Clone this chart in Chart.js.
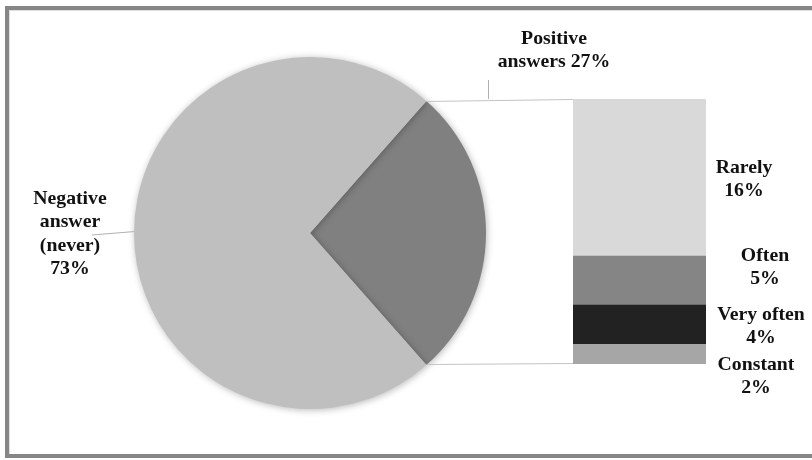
<!DOCTYPE html>
<html>
<head>
<meta charset="utf-8">
<script src="https://cdn.jsdelivr.net/npm/chart.js@4/dist/chart.umd.min.js"></script>
<style>
  html, body { margin: 0; padding: 0; background: #fff; }
  #wrap { position: relative; width: 812px; height: 460px; overflow: hidden; background: #fff; }
  #frame { position: absolute; left: 5px; top: 6px; width: 830px; height: 452px; box-sizing: border-box;
           border: 4px solid #868686; box-shadow: inset 1px 1px 0 #e0e0e0; }
  canvas { position: absolute; left: 0; top: 0; }
</style>
</head>
<body>
<div id="wrap">
  <div id="frame"></div>
  <canvas id="pie" width="812" height="460"></canvas>
  <canvas id="bar" width="812" height="460"></canvas>
</div>
<script>
// ---- data ----
const pieCategories = ['Positive answers', 'Negative answer (never)'];
const pieValues = [27, 73];
const pieColors = ['#808080', '#bfbfbf'];

const barCategories = ['Constant', 'Very often', 'Often', 'Rarely'];
const barValues = [2, 4, 5, 16];
const barColors = ['#a6a6a6', '#222222', '#858585', '#d9d9d9'];

// label text lines
const pieLabelLines = [['Positive', 'answers ' + pieValues[0] + '%'],
                       ['Negative', 'answer', '(never)', pieValues[1] + '%']];
const barLabelLines = barCategories.map((c, i) => [c, barValues[i] + '%']);

// ---- layout constants ----
const FONT = 'bold 19px "Liberation Serif", "Times New Roman", serif';
const STRETCH = 1.04;
const LINE_H = 23.5;
const pieLabelPos = [{x: 554, y: 39}, {x: 70, y: 199}];
const barLabelPos = [{x: 756, y: 365}, {x: 761, y: 315}, {x: 765, y: 256}, {x: 744, y: 168}];

const shadowPlugin = {
  id: 'pieShadow',
  beforeDatasetsDraw(chart) {
    const ctx = chart.ctx;
    ctx.save();
    ctx.shadowColor = 'rgba(0,0,0,0.28)';
    ctx.shadowBlur = 7;
    ctx.shadowOffsetX = 1;
    ctx.shadowOffsetY = 1;
  },
  afterDatasetsDraw(chart) { chart.ctx.restore(); }
};

const pieChart = new Chart(document.getElementById('pie'), {
  type: 'pie',
  data: {
    labels: pieCategories,
    datasets: [{ data: pieValues, backgroundColor: pieColors, borderWidth: 0 }]
  },
  options: {
    responsive: false,
    animation: false,
    rotation: 90 - pieValues[0] / 100 * 360 / 2,
    layout: { padding: { left: 134, right: 326, top: 57, bottom: 51 } },
    plugins: { legend: { display: false }, tooltip: { enabled: false } }
  },
  plugins: [shadowPlugin]
});

const overlayPlugin = {
  id: 'overlay',
  afterDraw(chart) {
    const ctx = chart.ctx;
    const arc = pieChart.getDatasetMeta(0).data[0];
    const negArc = pieChart.getDatasetMeta(0).data[1];
    const cx = arc.x, cy = arc.y, r = arc.outerRadius;
    const pTop = {x: cx + r * Math.cos(arc.startAngle), y: cy + r * Math.sin(arc.startAngle)};
    const pBot = {x: cx + r * Math.cos(arc.endAngle), y: cy + r * Math.sin(arc.endAngle)};
    const topBar = chart.getDatasetMeta(barValues.length - 1).data[0];
    const botBar = chart.getDatasetMeta(0).data[0];
    const bx = topBar.x - topBar.width / 2;
    ctx.save();
    ctx.strokeStyle = '#c4c4c4';
    ctx.lineWidth = 1;
    ctx.beginPath();
    ctx.moveTo(pTop.x, pTop.y + 0.5); ctx.lineTo(bx, topBar.y + 0.5);
    ctx.moveTo(pBot.x, pBot.y - 0.5); ctx.lineTo(bx, botBar.base - 0.5);
    ctx.stroke();
    // leader lines
    ctx.strokeStyle = '#b0b0b0';
    ctx.beginPath();
    ctx.moveTo(488.5, 80); ctx.lineTo(488.5, topBar.y);
    const a = Math.PI + 0.008;
    ctx.moveTo(92, 235); ctx.lineTo(negArc.x + r * Math.cos(a), negArc.y + r * Math.sin(a));
    ctx.stroke();
    // labels
    ctx.fillStyle = '#111';
    ctx.font = FONT;
    ctx.textAlign = 'center';
    ctx.textBaseline = 'middle';
    const drawLines = (lines, p) => lines.forEach((t, i) => {
      ctx.save();
      ctx.translate(p.x, p.y + i * LINE_H);
      ctx.scale(STRETCH, 1);
      ctx.fillText(t, 0, 0);
      ctx.restore();
    });
    pieLabelLines.forEach((l, i) => drawLines(l, pieLabelPos[i]));
    barLabelLines.forEach((l, i) => drawLines(l, barLabelPos[i]));
    ctx.restore();
  }
};

const barTotal = barValues.reduce((s, v) => s + v, 0);
new Chart(document.getElementById('bar'), {
  type: 'bar',
  data: {
    labels: ['Positive answers'],
    datasets: barCategories.map((c, i) => ({
      label: c, data: [barValues[i]], backgroundColor: barColors[i], borderWidth: 0,
      barPercentage: 1, categoryPercentage: 1
    }))
  },
  options: {
    responsive: false,
    animation: false,
    layout: { padding: { left: 573, right: 106, top: 99, bottom: 96 } },
    scales: {
      x: { display: false, stacked: true },
      y: { display: false, stacked: true, min: 0, max: barTotal }
    },
    plugins: { legend: { display: false }, tooltip: { enabled: false } }
  },
  plugins: [overlayPlugin]
});
</script>
</body>
</html>
